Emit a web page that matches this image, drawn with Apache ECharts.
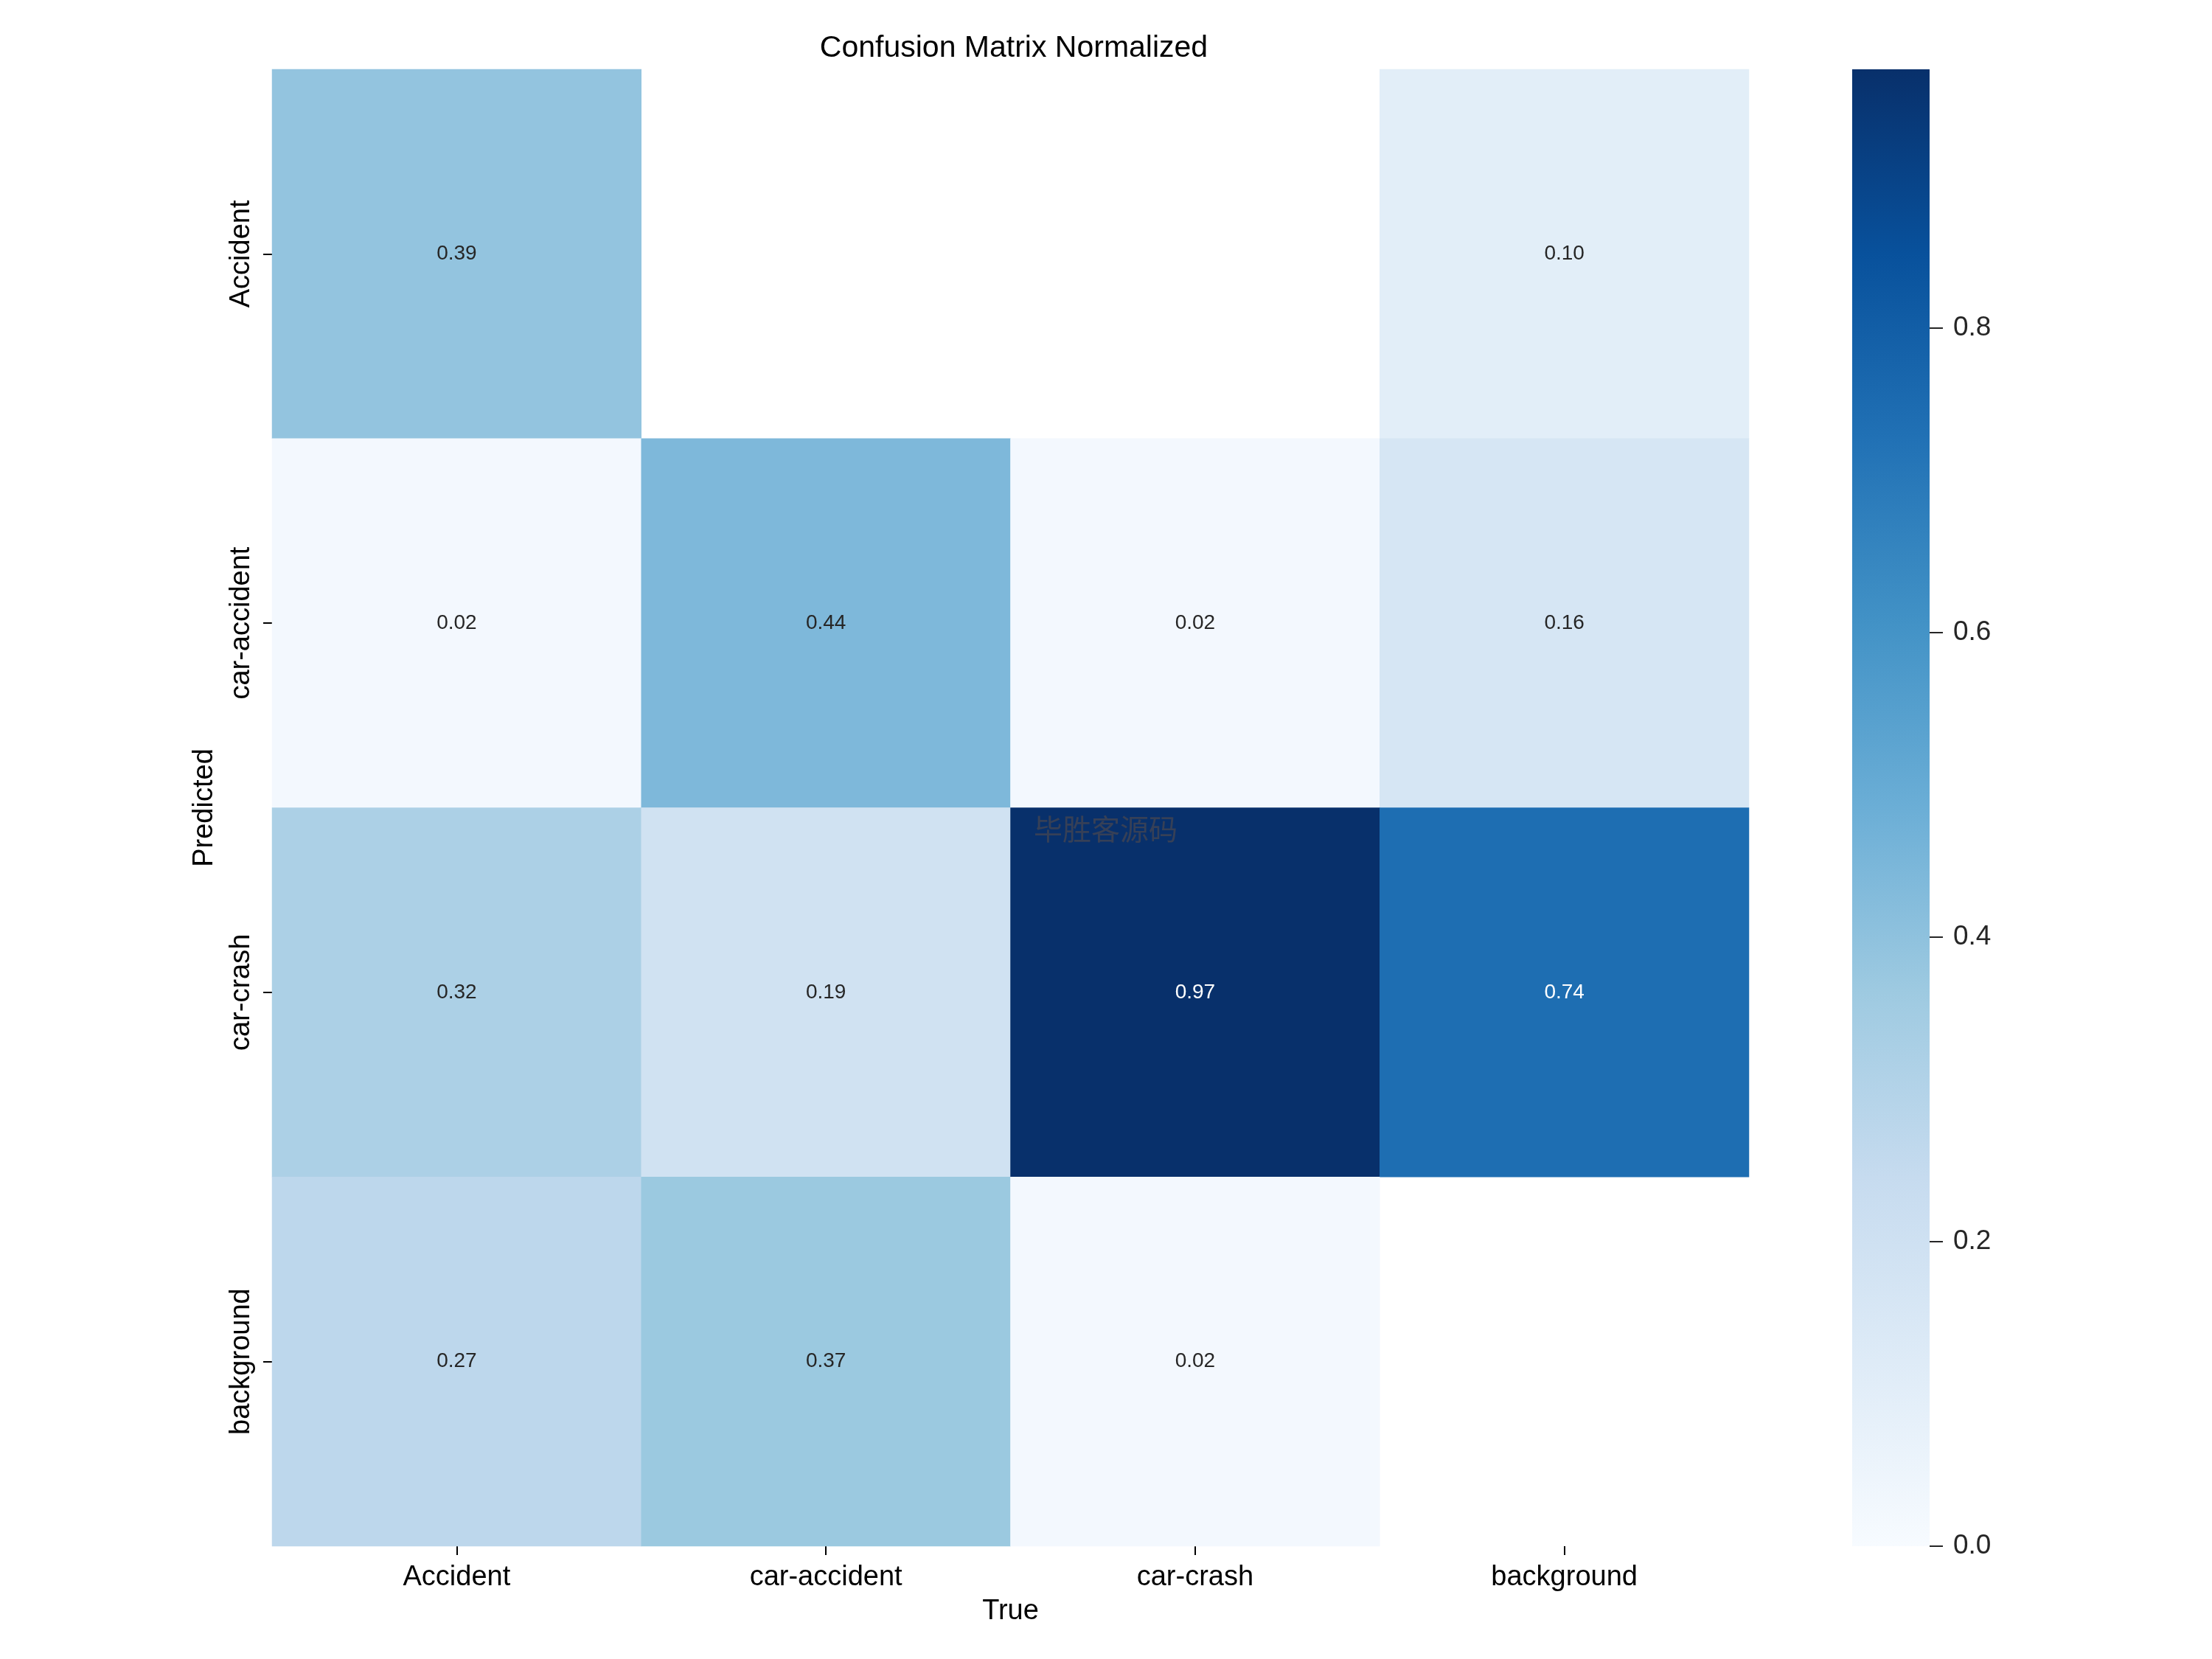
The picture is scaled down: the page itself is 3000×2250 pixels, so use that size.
<!DOCTYPE html>
<html>
<head>
<meta charset="utf-8">
<script src="https://cdn.jsdelivr.net/npm/echarts@6/dist/echarts.min.js"></script>
<style>
  html, body { margin: 0; padding: 0; background: #fff; }
  #chart { width: 3000px; height: 2250px; }
</style>
</head>
<body>
<div id="chart"></div>
<script>
// 类别
const trueLabels = ['Accident', 'car-accident', 'car-crash', 'background'];
const predLabels = ['Accident', 'car-accident', 'car-crash', 'background'];
// 每行是 Predicted，每列是 True (0 = 空白格)
const rowAccident    = [0.39, 0,    0,    0.10];
const rowCarAccident = [0.02, 0.44, 0.02, 0.16];
const rowCarCrash    = [0.32, 0.19, 0.97, 0.74];
const rowBackground  = [0.27, 0.37, 0.02, 0];
const colorbarTicks = [0, 0.2, 0.4, 0.6, 0.8];
const blues = ['#f7fbff', '#deebf7', '#c6dbef', '#9ecae1', '#6baed6',
               '#4292c6', '#2171b5', '#08519c', '#08306b'];

const rows = [rowAccident, rowCarAccident, rowCarCrash, rowBackground];
const vmax = Math.max(...rows.flat());

let cells = [];
rows.forEach((row, r) => {
	row.forEach((v, c) => {
		if (v <= 0) return;
		cells.push({
			value: [c, r, v],
			label: { color: v > 0.6 ? '#ffffff' : '#262626' }
		});
	});
});

const font = '"Liberation Sans", Arial, sans-serif';
const chart = echarts.init(document.getElementById('chart'));

let option = {
	backgroundColor: '#fff',
	animation: false,
	title: {
		text: 'Confusion Matrix Normalized',
		left: 1370, top: 40, textAlign: 'center',
		textStyle: { fontFamily: font, fontSize: 41, fontWeight: 'normal', color: '#000' }
	},
	grid: [
		{ left: 369, top: 94, width: 2003, height: 2003 },
		{ left: 2512, top: 94, width: 105, height: 2003 }
	],
	xAxis: [
		{
			type: 'category', gridIndex: 0, data: trueLabels,
			name: 'True', nameLocation: 'middle', nameGap: 70,
			nameTextStyle: { fontFamily: font, fontSize: 38, color: '#000' },
			axisLine: { show: false },
			axisTick: { show: true, alignWithLabel: true, length: 12, lineStyle: { color: '#000', width: 2 } },
			axisLabel: { margin: 24, fontFamily: font, fontSize: 38, color: '#000' },
			splitLine: { show: false }
		},
		{
			type: 'category', gridIndex: 1, data: ['cb'], show: false
		}
	],
	yAxis: [
		{
			type: 'category', gridIndex: 0, data: predLabels, inverse: true,
			name: 'Predicted', nameLocation: 'middle', nameGap: 72, nameRotate: 90,
			nameTextStyle: { fontFamily: font, fontSize: 38, color: '#000' },
			axisLine: { show: false },
			axisTick: { show: true, alignWithLabel: true, length: 12, lineStyle: { color: '#000', width: 2 } },
			axisLabel: { rotate: 90, margin: 22, fontFamily: font, fontSize: 38, color: '#000' },
			splitLine: { show: false }
		},
		{
			type: 'value', gridIndex: 1, position: 'right',
			min: 0, max: vmax, interval: 0.2,
			axisLine: { show: false },
			axisTick: { show: true, length: 18, customValues: colorbarTicks,
				lineStyle: { color: '#262626', width: 2 } },
			axisLabel: {
				margin: 32, fontFamily: font, fontSize: 37, color: '#262626',
				customValues: colorbarTicks,
				formatter: v => v.toFixed(1)
			},
			splitLine: { show: false }
		}
	],
	visualMap: {
		show: false, min: 0, max: vmax, dimension: 2, seriesIndex: 0,
		inRange: { color: blues }
	},
	series: [
		{
			type: 'heatmap', xAxisIndex: 0, yAxisIndex: 0,
			data: cells,
			itemStyle: { borderWidth: 0 },
			label: {
				show: true, fontFamily: font, fontSize: 28,
				formatter: p => p.value[2].toFixed(2)
			},
			emphasis: { disabled: true }
		},
		{
			// 颜色条
			type: 'bar', xAxisIndex: 1, yAxisIndex: 1,
			data: [vmax], barWidth: '100%', silent: true,
			itemStyle: {
				color: new echarts.graphic.LinearGradient(0, 1, 0, 0,
					blues.map((c, i) => ({ offset: i / (blues.length - 1), color: c })))
			}
		}
	],
	graphic: [
		{
			type: 'text', left: 1402, top: 1105, z: 100, silent: true,
			style: {
				text: '毕胜客源码',
				fontSize: 39,
				fontFamily: '"Noto Sans CJK SC"',
				fill: 'rgba(70,70,80,0.75)'
			}
		}
	]
};

chart.setOption(option);
</script>
</body>
</html>
